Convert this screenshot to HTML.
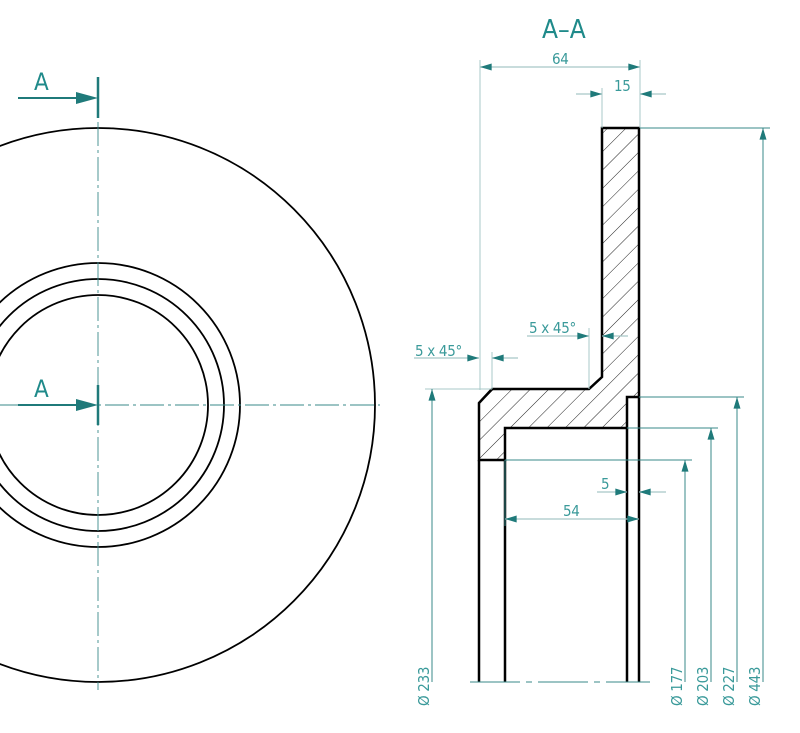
<!DOCTYPE html>
<html><head><meta charset="utf-8"><style>
html,body{margin:0;padding:0;background:#fff;width:800px;height:733px;overflow:hidden}
text{font-family:"DejaVu Sans Condensed","Liberation Sans Narrow","Liberation Sans",sans-serif;fill:#3a9a9a}
</style></head><body>
<svg width="800" height="733" viewBox="0 0 800 733" xmlns="http://www.w3.org/2000/svg">
<defs>
<pattern id="h" patternUnits="userSpaceOnUse" width="13" height="13" patternTransform="rotate(45)">
<line x1="0" y1="0" x2="0" y2="13" stroke="#222" stroke-width="1"/></pattern>
<marker id="a" viewBox="0 0 10 6" refX="10" refY="3" markerWidth="20" markerHeight="7" markerUnits="userSpaceOnUse" orient="auto-start-reverse"><path d="M0,0L10,3L0,6z" fill="#1f7a7a"/></marker>
</defs>
<!-- left view -->
<g fill="none" stroke="#000" stroke-width="1.8">
<circle cx="98" cy="405" r="277"/>
<circle cx="98" cy="405" r="142"/>
<circle cx="98" cy="405" r="126"/>
<circle cx="98" cy="405" r="110"/>
</g>
<g stroke="#3a8a8a" stroke-width="0.9" stroke-dasharray="24,4,3,4">
<line x1="0" y1="405" x2="380" y2="405"/>
<line x1="98" y1="122" x2="98" y2="690"/>
</g>
<g stroke="#1f7a7a" stroke-width="2.5">
<line x1="98" y1="77" x2="98" y2="118"/>
<line x1="98" y1="385" x2="98" y2="425"/>
</g>
<g stroke="#1f7a7a" stroke-width="2">
<line x1="18" y1="98" x2="80" y2="98"/><path d="M76,92L98,98L76,104z" fill="#1f7a7a" stroke="none"/>
<line x1="18" y1="405" x2="80" y2="405"/><path d="M76,399L98,405L76,411z" fill="#1f7a7a" stroke="none"/>
</g>
<text x="34" y="90" font-size="24" style="fill:#1f8a8a">A</text>
<text x="34" y="397" font-size="24" style="fill:#1f8a8a">A</text>
<text x="542" y="38" font-size="26" style="fill:#1f8a8a">A–A</text>

<!-- section -->
<path d="M479,403L492,389L589,389L602,377L602,128L639,128L639,397L627,397L627,428L505,428L505,460L479,460z" fill="url(#h)" stroke="#000" stroke-width="2.5"/>
<g stroke="#000" stroke-width="2.5" fill="none">
<line x1="479" y1="460" x2="479" y2="682"/>
<line x1="505" y1="460" x2="505" y2="682"/>
<line x1="627" y1="428" x2="627" y2="682"/>
<line x1="639" y1="397" x2="639" y2="682"/>
</g>
<line x1="470" y1="682" x2="650" y2="682" stroke="#3a8a8a" stroke-width="0.9" stroke-dasharray="50,6,6,6"/>

<!-- extension lines -->
<g stroke="#a8c8c8" stroke-width="1">
<line x1="480" y1="60" x2="480" y2="390"/>
<line x1="640" y1="60" x2="640" y2="128"/>
<line x1="602" y1="88" x2="602" y2="128"/>
<line x1="492" y1="352" x2="492" y2="389"/>
<line x1="589" y1="328" x2="589" y2="389"/>
<line x1="425" y1="389" x2="492" y2="389"/>
</g>
<g stroke="#3a8a8a" stroke-width="1">
<line x1="640" y1="128" x2="770" y2="128"/>
<line x1="639" y1="397" x2="744" y2="397"/>
<line x1="627" y1="428" x2="718" y2="428"/>
<line x1="505" y1="460" x2="692" y2="460"/>
<line x1="505" y1="460" x2="505" y2="526"/>
</g>
<!-- dimension lines -->
<g stroke="#a8c8c8" stroke-width="1.2" fill="none">
<line x1="480" y1="67" x2="640" y2="67" marker-start="url(#a)" marker-end="url(#a)"/>
<line x1="576" y1="94" x2="602" y2="94" marker-end="url(#a)"/>
<line x1="666" y1="94" x2="640" y2="94" marker-end="url(#a)"/>
<line x1="414" y1="358" x2="479" y2="358" marker-end="url(#a)"/>
<line x1="518" y1="358" x2="492" y2="358" marker-end="url(#a)"/>
<line x1="527" y1="336" x2="589" y2="336" marker-end="url(#a)"/>
<line x1="628" y1="336" x2="602" y2="336" marker-end="url(#a)"/>
<line x1="597" y1="492" x2="627" y2="492" marker-end="url(#a)"/>
<line x1="666" y1="492" x2="639" y2="492" marker-end="url(#a)"/>
<line x1="505" y1="519" x2="639" y2="519" marker-start="url(#a)" marker-end="url(#a)"/>
</g>
<g stroke="#3a8a8a" stroke-width="1" fill="none">
<line x1="432" y1="682" x2="432" y2="389" marker-end="url(#a)"/>
<line x1="685" y1="682" x2="685" y2="460" marker-end="url(#a)"/>
<line x1="711" y1="682" x2="711" y2="428" marker-end="url(#a)"/>
<line x1="737" y1="682" x2="737" y2="397" marker-end="url(#a)"/>
<line x1="763" y1="682" x2="763" y2="128" marker-end="url(#a)"/>
</g>
<g font-size="15" letter-spacing="-0.3">
<text x="552" y="64">64</text>
<text x="614" y="91">15</text>
<text x="415" y="356">5 x 45°</text>
<text x="529" y="333">5 x 45°</text>
<text x="601" y="489">5</text>
<text x="563" y="516">54</text>
<text transform="translate(429,706) rotate(-90)">Ø  233</text>
<text transform="translate(682,706) rotate(-90)">Ø  177</text>
<text transform="translate(708,706) rotate(-90)">Ø  203</text>
<text transform="translate(734,706) rotate(-90)">Ø  227</text>
<text transform="translate(760,706) rotate(-90)">Ø  443</text>
</g>
</svg>
</body></html>
